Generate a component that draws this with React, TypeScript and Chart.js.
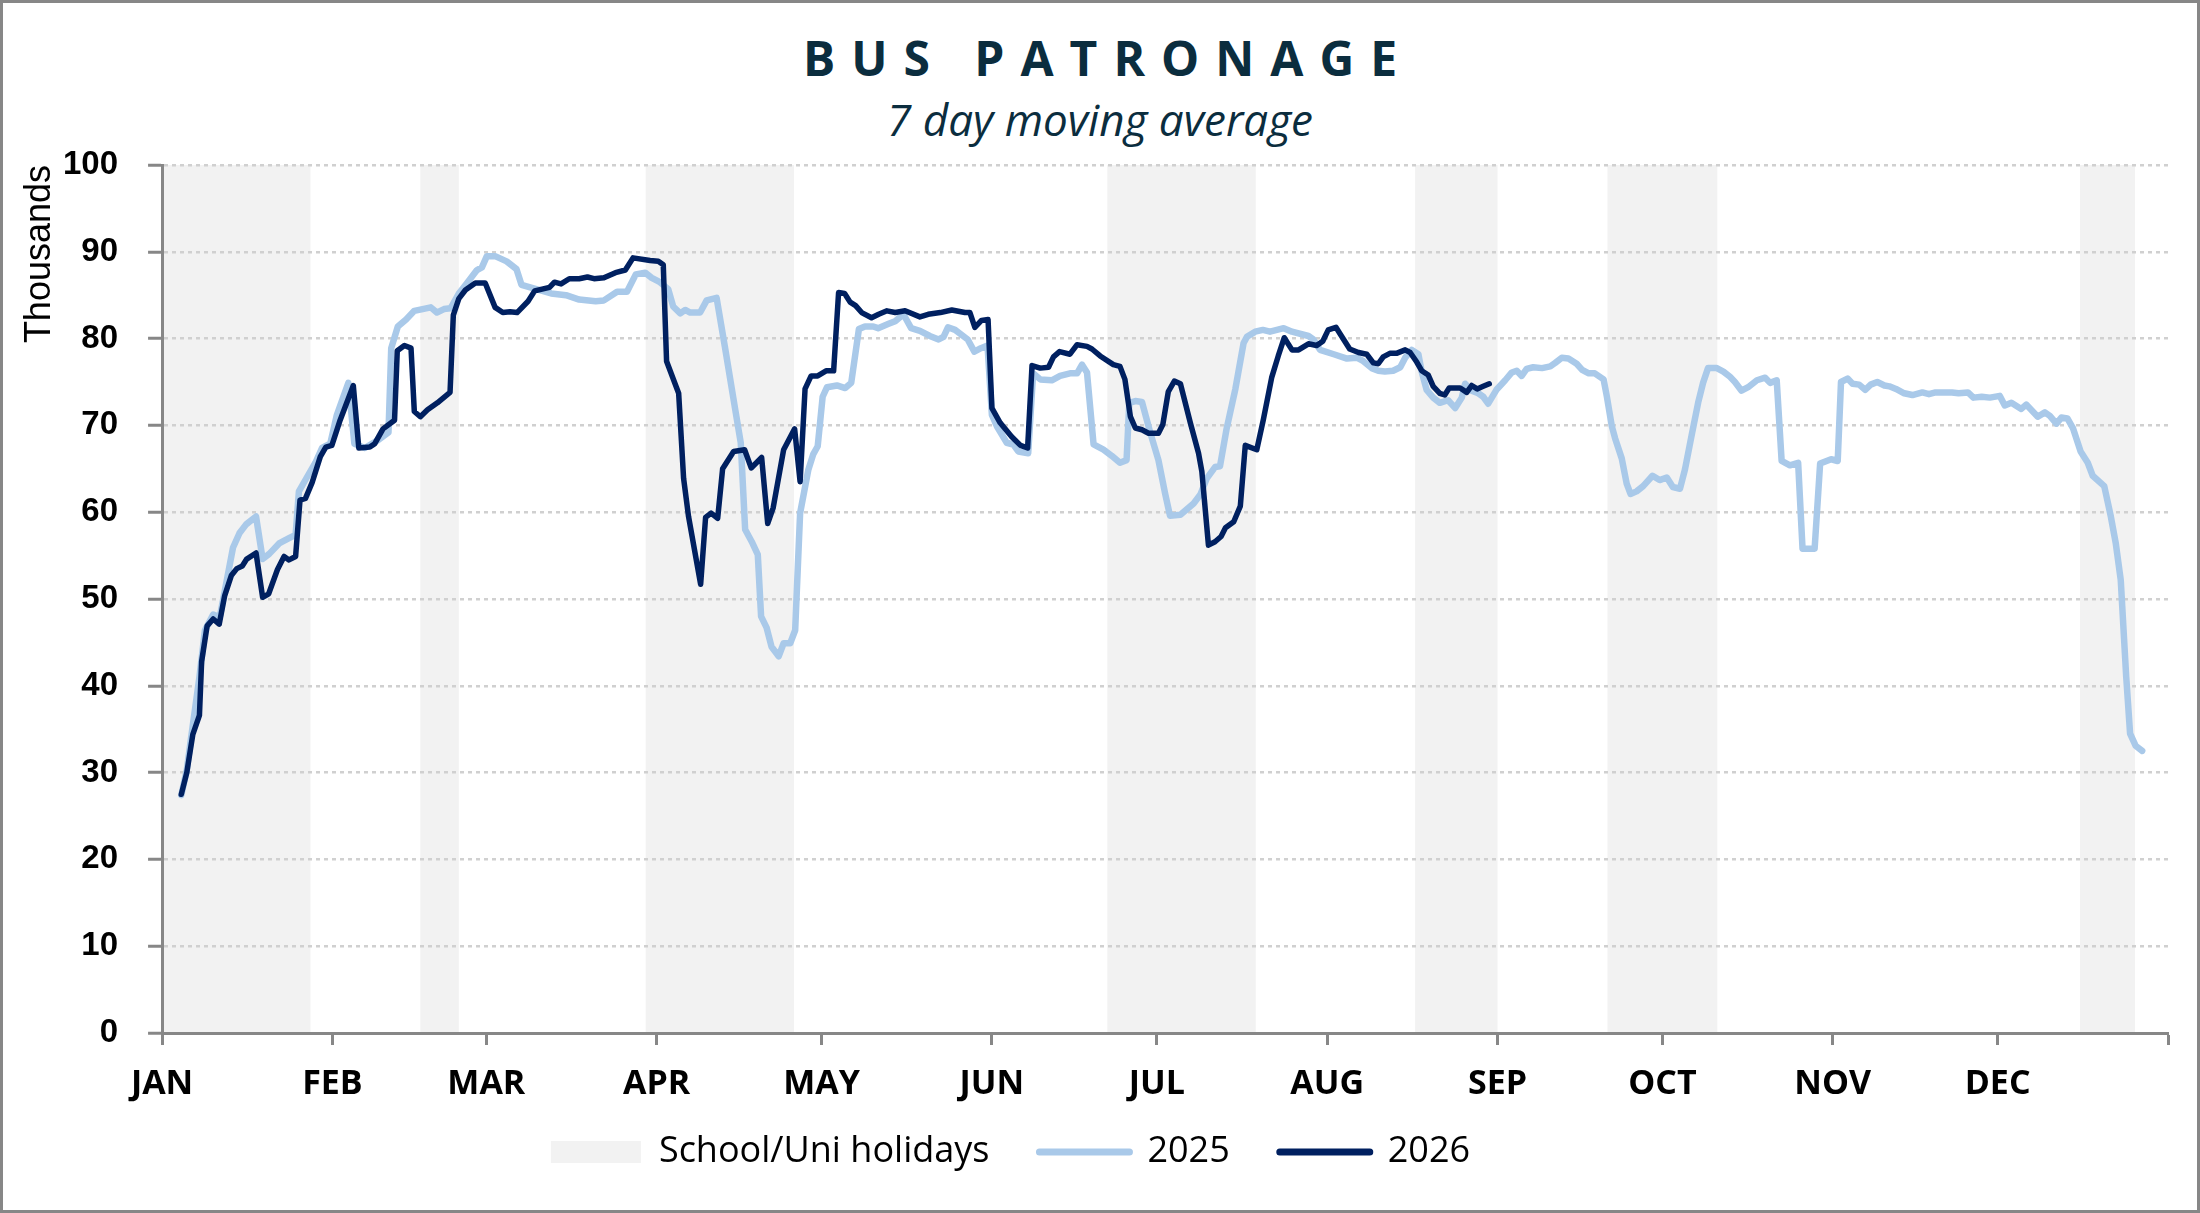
import { useEffect, useRef } from 'react';
import { Chart, registerables } from 'chart.js';

Chart.register(...registerables);

// Month labels sit on the first day of each month (day-of-year, Jan 1 = 0)
const months = ['JAN', 'FEB', 'MAR', 'APR', 'MAY', 'JUN', 'JUL', 'AUG', 'SEP', 'OCT', 'NOV', 'DEC'];
const monthStarts = [0, 31, 59, 90, 120, 151, 181, 212, 243, 273, 304, 334, 365];
const yTicks = [0, 10, 20, 30, 40, 50, 60, 70, 80, 90, 100];

// School / uni holiday periods (day-of-year)
const holidayStart = [0, 47, 88, 172, 228, 263, 349];
const holidayEnd = [27, 54, 115, 199, 243, 283, 359];

// [day, thousands]
const points2025: [number, number][] = [
  [3.5, 27.4], [4.5, 30.3], [5.6, 35.5], [6.8, 41], [7.8, 46.4], [9.3, 48.2], [10.5, 47.9], [11.7, 51.9],
  [12.9, 55.9], [14.1, 57.6], [15.3, 58.6], [17.1, 59.5], [18.3, 54.6], [19.5, 55.2], [21.3, 56.4], [23.1, 57],
  [24.3, 57.4], [24.9, 62.4], [26.7, 64.4], [27.9, 65.7], [29.1, 67.4], [30.6, 67.9], [31.8, 71.2], [33.9, 74.9],
  [35, 67.9], [36.9, 67.4], [39.3, 68.3], [41.2, 69.2], [41.7, 78.9], [42.9, 81.4], [44.4, 82.2], [45.9, 83.2],
  [48.9, 83.6], [50, 83], [51.3, 83.4], [52.5, 83.5], [54, 85.2], [55.5, 86.4], [57.3, 87.9], [58.2, 88.2],
  [59.1, 89.5], [60.6, 89.5], [62.7, 88.9], [64.5, 88], [65.4, 86.2], [68.1, 85.7], [70.8, 85.2], [73.5, 85],
  [75.9, 84.5], [78.9, 84.3], [80.4, 84.4], [82.8, 85.4], [84.6, 85.4], [86.2, 87.4], [87.9, 87.6], [89.1, 87],
  [90.6, 86.5], [92.1, 85.7], [93, 83.7], [94.3, 82.9], [95.2, 83.3], [96.1, 83], [97.9, 83], [99.1, 84.4],
  [100.9, 84.7], [102.4, 79.1], [104.3, 71.8], [105.3, 68], [106.1, 58], [107.3, 56.6], [108.4, 55.1], [109, 48],
  [110, 46.7], [110.9, 44.5], [112.2, 43.4], [113.1, 44.9], [114.3, 44.9], [115.2, 46.4], [116.1, 59.9], [117.6, 64.9],
  [118.5, 66.7], [119.3, 67.6], [120.2, 73.3], [121, 74.4], [122.8, 74.6], [124.3, 74.3], [125.4, 74.9], [126.8, 81.1],
  [127.9, 81.4], [129.4, 81.4], [130.3, 81.2], [132.2, 81.7], [133.4, 82], [134.9, 82.8], [136.3, 81.2], [137.9, 80.9],
  [139.7, 80.3], [141.3, 79.9], [142.2, 80.2], [143, 81.3], [144.3, 81], [146.6, 79.9], [147.8, 78.5], [149, 78.9],
  [150.2, 79.2], [151, 71.2], [151.9, 69.9], [153.7, 68], [154.9, 67.8], [155.8, 67], [157.6, 66.8], [158.5, 76],
  [159.8, 75.3], [161.9, 75.2], [163.4, 75.7], [165.2, 76], [166.5, 76], [167.4, 77], [168.3, 76.1], [169.5, 67.8],
  [171.3, 67.2], [172.8, 66.5], [174.3, 65.7], [175.5, 66], [176, 72.6], [177.1, 72.8], [178.3, 72.7], [179.8, 69.2],
  [181.3, 66], [182.5, 62.2], [183.4, 59.6], [185.3, 59.7], [187.7, 61], [188.9, 62], [190.1, 63.9], [191.6, 65.2],
  [192.5, 65.3], [193.7, 69.6], [195.3, 74.2], [196.8, 79.5], [197.4, 80.2], [198.9, 80.8], [200.3, 81], [201.6, 80.8],
  [204.1, 81.2], [205.6, 80.8], [208.6, 80.3], [209.5, 79.9], [210.7, 78.7], [213.2, 78.2], [215.6, 77.7], [217.4, 77.8],
  [218.6, 77.4], [220.1, 76.6], [221.3, 76.3], [222.5, 76.2], [224, 76.3], [225.3, 76.7], [226.2, 77.8], [227.4, 78.7],
  [228.6, 78.2], [229.2, 76.2], [230.1, 74.1], [231.3, 73.2], [232.5, 72.6], [234, 72.9], [235.3, 72], [236.5, 73.2],
  [237.1, 74.8], [238.3, 74], [239.5, 73.7], [240.4, 73.3], [241.3, 72.5], [242.8, 74.1], [244.4, 75.2], [245.6, 76.1],
  [246.5, 76.3], [247.4, 75.7], [248.3, 76.5], [249.5, 76.7], [251.1, 76.6], [252.6, 76.8], [253.5, 77.2], [254.7, 77.8],
  [255.9, 77.7], [257.4, 77.1], [258.4, 76.4], [259.6, 76], [260.7, 76], [262.3, 75.3], [262.9, 73.3], [263.8, 69.9],
  [264.4, 68.5], [265.6, 66.2], [266.5, 63.3], [267.2, 62.1], [268.3, 62.4], [269.5, 63], [271.2, 64.2], [272.5, 63.7],
  [273.8, 64], [274.9, 62.9], [276.2, 62.7], [277.1, 64.9], [278.3, 68.8], [279.5, 72.6], [280.4, 74.9], [281.3, 76.6],
  [282.9, 76.6], [284.1, 76.2], [285.3, 75.6], [286.2, 75], [287.4, 74], [288.6, 74.4], [290.2, 75.2], [291.7, 75.5],
  [292.6, 74.9], [293.8, 75.2], [294.7, 65.9], [296.2, 65.4], [297.7, 65.7], [298.5, 55.8], [300.7, 55.8], [301.7, 65.6],
  [303.7, 66.1], [304.9, 65.9], [305.5, 75], [306.7, 75.4], [307.6, 74.8], [308.8, 74.7], [309.9, 74.1], [310.9, 74.7],
  [312.1, 75], [313.4, 74.6], [314.3, 74.5], [315.5, 74.2], [317, 73.7], [318.5, 73.5], [320.3, 73.8], [321.5, 73.6],
  [322.7, 73.8], [325.7, 73.8], [326.9, 73.7], [328.6, 73.8], [329.6, 73.2], [331.1, 73.3], [332.6, 73.2], [334.4, 73.4],
  [335.3, 72.3], [336.5, 72.6], [338.3, 71.9], [339.2, 72.4], [341.3, 71], [342.6, 71.5], [343.5, 71.1], [344.7, 70.2],
  [345.6, 70.9], [346.7, 70.8], [347.7, 69.7], [349.1, 67], [350.4, 65.7], [351.3, 64.2], [353.4, 63], [354.6, 59.5],
  [355.5, 56.4], [356.4, 52.2], [357.4, 41], [358.1, 34.5], [359.1, 33.1], [360.3, 32.5],
];

const points2026: [number, number][] = [
  [3.5, 27.5], [4.5, 30], [5.6, 34.4], [6.8, 36.6], [7.2, 42.8], [8.2, 46.9], [9.3, 47.7], [10.4, 47.1],
  [11.4, 50.4], [12.6, 52.7], [13.6, 53.5], [14.6, 53.8], [15.4, 54.6], [17.1, 55.3], [18.3, 50.2], [19.4, 50.6],
  [21, 53.4], [22.2, 54.9], [23.1, 54.5], [24.3, 54.9], [25.1, 61.4], [26.1, 61.6], [27.3, 63.4], [28.8, 66.4],
  [29.8, 67.5], [30.9, 67.7], [32.4, 70.6], [34.8, 74.6], [35.8, 67.4], [37.8, 67.5], [38.7, 67.9], [40.2, 69.6],
  [42.3, 70.6], [42.8, 78.6], [44.1, 79.2], [45.3, 78.9], [45.9, 71.6], [47, 71], [48.3, 71.8], [50.1, 72.6],
  [52.4, 73.8], [53, 82.7], [54, 84.6], [55.2, 85.6], [57, 86.4], [58.8, 86.4], [60.6, 83.6], [62, 83],
  [63.3, 83.1], [64.6, 83], [66.6, 84.3], [67.8, 85.5], [70.5, 85.9], [71.4, 86.5], [72.6, 86.3], [74.1, 86.9],
  [75.9, 86.9], [77.4, 87.1], [78.6, 86.9], [80.4, 87], [82.5, 87.6], [84.3, 87.9], [85.7, 89.3], [88.8, 89],
  [90.3, 88.9], [91.2, 88.5], [91.8, 77.4], [94, 73.7], [94.9, 63.9], [95.8, 59.5], [98, 51.7], [98.9, 59.4],
  [99.9, 59.9], [101.1, 59.3], [102, 65], [104, 67], [106, 67.2], [107.2, 65.1], [109.1, 66.3], [110.2, 58.7],
  [111.2, 60.5], [113.1, 67.2], [115.1, 69.6], [116.1, 63.5], [117, 74.2], [118.1, 75.7], [119.3, 75.7], [120.9, 76.3],
  [122.2, 76.3], [123.1, 85.3], [124.2, 85.2], [125.2, 84.2], [126.2, 83.8], [127.3, 83], [129.1, 82.4], [130.4, 82.8],
  [131.9, 83.2], [133.4, 83], [135.2, 83.2], [137.9, 82.5], [139.4, 82.8], [141.6, 83], [143.7, 83.3], [146.1, 83],
  [147, 83], [147.9, 81.3], [149.1, 82.1], [150.3, 82.2], [151, 72], [152.5, 70.3], [154.6, 68.7], [156.2, 67.7],
  [157.5, 67.4], [158.3, 76.9], [159.8, 76.6], [161.3, 76.7], [162.2, 77.9], [163.3, 78.5], [165.2, 78.2], [166.5, 79.3],
  [168.3, 79.1], [169.2, 78.8], [170.7, 78], [173.1, 77], [174.3, 76.8], [175.2, 75.3], [176.2, 71], [177.1, 69.7],
  [178.3, 69.5], [179.5, 69.1], [181.3, 69.1], [182.1, 70.1], [183.1, 73.9], [184.2, 75.1], [185.3, 74.8], [187.1, 70.3],
  [188.6, 66.8], [189.2, 64.7], [190.4, 56.2], [191.6, 56.6], [192.7, 57.2], [193.5, 58.2], [195, 58.9], [196.2, 60.7],
  [197.1, 67.7], [199.2, 67.2], [200.4, 70.7], [201.9, 75.5], [203.1, 78], [204.2, 80.1], [205.6, 78.7], [206.8, 78.7],
  [208.6, 79.4], [210.1, 79.2], [211.2, 79.7], [212.2, 81], [213.6, 81.3], [214.6, 80.3], [216.1, 78.8], [217.7, 78.4],
  [219.2, 78.2], [220.4, 77.2], [221.3, 77.1], [222.2, 77.9], [223.4, 78.3], [224.6, 78.3], [226.2, 78.7], [227.1, 78.4],
  [228.3, 77.3], [229.2, 76.3], [230.4, 75.8], [231.3, 74.5], [232.5, 73.7], [233.4, 73.5], [234.2, 74.3], [236.2, 74.3],
  [237.4, 73.8], [238.3, 74.6], [239.3, 74.2], [240.4, 74.5], [241.5, 74.8],
];

const COLOR_2025 = '#a9c9e9';
const COLOR_2026 = '#002060';
const HOLIDAY_FILL = '#f2f2f2';
const AXIS_GREY = '#878787';
const TITLE_COLOR = '#0b2d3e';

// grey holiday bands, drawn before grid and lines
const holidayBands = {
  id: 'holidayBands',
  beforeDraw(chart: any) {
    const { ctx, chartArea, scales } = chart;
    ctx.save();
    ctx.fillStyle = HOLIDAY_FILL;
    holidayStart.forEach((start, i) => {
      const x0 = scales.x.getPixelForValue(start);
      const x1 = scales.x.getPixelForValue(holidayEnd[i]);
      ctx.fillRect(x0, chartArea.top, x1 - x0, chartArea.bottom - chartArea.top);
    });
    ctx.restore();
  },
};

// the legend sits a bit left of centre and tight under the month labels in the original
const legendShift = {
  id: 'legendShift',
  afterLayout(chart: any) {
    const legend = chart.legend;
    if (legend) {
      legend.left -= 83;
      legend.right -= 83;
      legend.top -= 40;
      legend.bottom -= 40;
    }
  },
};

function PatronageChart() {
  const chartRef = useRef<HTMLCanvasElement>(null);
  const chartInstance = useRef<Chart | null>(null);

  useEffect(() => {
    if (!chartRef.current) return;
    const ctx = chartRef.current.getContext('2d');
    if (!ctx) return;

    if (chartInstance.current) {
      chartInstance.current.destroy();
    }

    chartInstance.current = new Chart(ctx, {
      type: 'line',
      data: {
        datasets: [
          {
            label: '2025',
            data: points2025.map(([x, y]) => ({ x, y })),
            borderColor: COLOR_2025,
            backgroundColor: COLOR_2025,
            borderWidth: 6.5,
            pointRadius: 0,
            tension: 0,
            borderJoinStyle: 'round',
            borderCapStyle: 'round',
            order: 2,
          },
          {
            label: '2026',
            data: points2026.map(([x, y]) => ({ x, y })),
            borderColor: COLOR_2026,
            backgroundColor: COLOR_2026,
            borderWidth: 5.5,
            pointRadius: 0,
            tension: 0,
            borderJoinStyle: 'round',
            borderCapStyle: 'round',
            order: 1,
          },
        ],
      },
      options: {
        responsive: true,
        maintainAspectRatio: false,
        animation: false,
        layout: {
          padding: { top: 162, right: 29, bottom: -10, left: 16 },
        },
        plugins: {
          legend: {
            position: 'bottom',
            onClick: () => {},
            labels: {
              usePointStyle: true,
              pointStyleWidth: 90,
              boxHeight: 22,
              padding: 50,
              color: '#000',
              font: { family: "'Open Sans', sans-serif", size: 36 },
              generateLabels: () => [
                {
                  text: 'School/Uni holidays',
                  fillStyle: HOLIDAY_FILL,
                  strokeStyle: HOLIDAY_FILL,
                  lineWidth: 0,
                  pointStyle: 'rect',
                  hidden: false,
                  datasetIndex: -1,
                },
                {
                  text: '2025',
                  fillStyle: COLOR_2025,
                  strokeStyle: COLOR_2025,
                  lineWidth: 7,
                  lineCap: 'round',
                  pointStyle: 'line',
                  hidden: false,
                  datasetIndex: 0,
                },
                {
                  text: '2026',
                  fillStyle: COLOR_2026,
                  strokeStyle: COLOR_2026,
                  lineWidth: 7,
                  lineCap: 'round',
                  pointStyle: 'line',
                  hidden: false,
                  datasetIndex: 1,
                },
              ],
            },
          },
          tooltip: { enabled: false },
        },
        scales: {
          x: {
            type: 'linear',
            min: 0,
            max: 365,
            afterBuildTicks: (axis: any) => {
              axis.ticks = monthStarts.map((value) => ({ value }));
            },
            ticks: {
              autoSkip: false,
              maxRotation: 0,
              padding: 20,
              color: '#000',
              font: { family: "'Open Sans', sans-serif", size: 34, weight: 'bold', lineHeight: 1.147 },
              callback: (value: any) => months[monthStarts.indexOf(Number(value))] ?? '',
            },
            grid: {
              drawOnChartArea: false,
              drawTicks: true,
              tickLength: 12,
              tickColor: AXIS_GREY,
              tickWidth: 3,
            },
            border: { color: AXIS_GREY, width: 3 },
          },
          y: {
            min: 0,
            max: 100,
            afterBuildTicks: (axis: any) => {
              axis.ticks = yTicks.map((value) => ({ value }));
            },
            ticks: {
              padding: 30,
              color: '#000',
              font: { family: "'Liberation Sans', Arial, sans-serif", size: 33, weight: 'bold' },
            },
            grid: {
              color: '#d0d0d0',
              lineWidth: 2.5,
              drawTicks: true,
              tickLength: 14,
              tickColor: AXIS_GREY,
              tickWidth: 3,
            },
            border: { color: AXIS_GREY, width: 3, dash: [4, 4] },
            title: {
              display: true,
              text: 'Thousands',
              align: 'end',
              color: '#000',
              font: { family: "'Liberation Sans', Arial, sans-serif", size: 36, lineHeight: 1 },
              padding: { top: 3, bottom: -25 },
            },
          },
        },
      },
      plugins: [holidayBands, legendShift],
    });

    return () => {
      if (chartInstance.current) {
        chartInstance.current.destroy();
        chartInstance.current = null;
      }
    };
  }, []);

  return <canvas ref={chartRef} />;
}

export default function App() {
  return (
    <div
      style={{
        position: 'fixed',
        left: 0,
        top: 0,
        width: 2200,
        height: 1213,
        boxSizing: 'border-box',
        border: `3px solid ${AXIS_GREY}`,
        background: '#fff',
        overflow: 'hidden',
      }}
    >
      <div
        style={{
          position: 'absolute',
          left: 0,
          right: 0,
          top: 31,
          textAlign: 'center',
          fontFamily: "'Open Sans', sans-serif",
          fontWeight: 700,
          fontSize: 48,
          lineHeight: '48px',
          letterSpacing: 16,
          paddingLeft: 16,
          color: TITLE_COLOR,
        }}
      >
        BUS PATRONAGE
      </div>
      <div
        style={{
          position: 'absolute',
          left: 0,
          right: 0,
          top: 94,
          textAlign: 'center',
          fontFamily: "'Open Sans', sans-serif",
          fontStyle: 'italic',
          fontSize: 44,
          lineHeight: '44px',
          color: TITLE_COLOR,
        }}
      >
        7 day moving average
      </div>
      <div style={{ position: 'absolute', inset: 0 }}>
        <PatronageChart />
      </div>
    </div>
  );
}
